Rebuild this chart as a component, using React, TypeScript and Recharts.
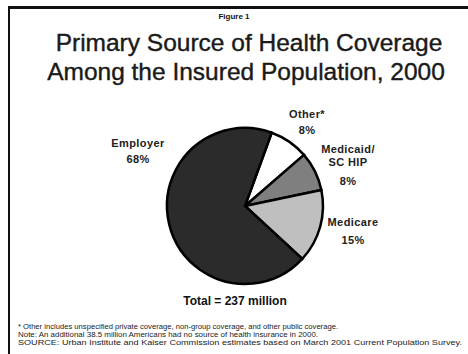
import { Cell, Pie, PieChart } from 'recharts';

const sources = ['Other*', 'Medicaid/SCHIP', 'Medicare', 'Employer'];
const shares = [8, 8, 15, 68];
const labelLines = [['Other*', '8%'], ['Medicaid/', 'SC HIP', '8%'], ['Medicare', '15%'], ['Employer', '68%']];
const footnotes = [
    '* Other includes unspecified private coverage, non-group coverage, and other public coverage.',
    'Note: An additional 38.5 million Americans had no source of health insurance in 2000.',
    'SOURCE: Urban Institute and Kaiser Commission estimates based on March 2001 Current Population Survey.',
];

const fills = ['#ffffff', '#7f7f7f', '#bfbfbf', '#2b2b2b'];
// label anchor offsets from the pie centre: [dx, baselines...]
const labelPos: Array<[number, number[]]> = [
    [62, [-88, -72]],
    [103, [-53, -40, -21]],
    [108, [20, 38]],
    [-107, [-59, -43]],
];
const footWidths = [320, 300, 444];

const data = sources.map((name, i) => ({ name, value: shares[i] }));
const font = '"Liberation Sans", Arial, sans-serif';

function renderLabel(props: any) {
    const { cx, cy, index } = props;
    const [dx, ys] = labelPos[index];
    return (
        <g key={`lbl-${index}`}>
            {labelLines[index].map((t, j) => (
                <text
                    key={j}
                    x={cx + dx}
                    y={cy + ys[j]}
                    textAnchor="middle"
                    fontFamily={font}
                    fontWeight="bold"
                    fontSize={11}
                    letterSpacing={0.4}
                    fill="#222"
                >
                    {t}
                </text>
            ))}
        </g>
    );
}

export default function App() {
    return (
        <div
            style={{
                position: 'fixed',
                left: 0,
                top: 0,
                width: 468,
                height: 354,
                background: '#fff',
                overflow: 'hidden',
            }}
        >
            <div style={{ position: 'absolute', left: 8, top: 6, width: 460, height: 3, background: '#111' }} />
            <div style={{ position: 'absolute', left: 8, top: 6, width: 2, height: 348, background: '#111' }} />
            <div style={{ position: 'absolute', left: 0, top: 0 }}>
                <PieChart width={468} height={354}>
                    <Pie
                        data={data}
                        dataKey="value"
                        nameKey="name"
                        cx={240}
                        cy={201}
                        outerRadius={78}
                        startAngle={70}
                        endAngle={-290}
                        stroke="#000"
                        strokeWidth={2.5}
                        labelLine={false}
                        label={renderLabel}
                        isAnimationActive={false}
                    >
                        {data.map((d, i) => (
                            <Cell key={d.name} fill={fills[i]} />
                        ))}
                    </Pie>
                </PieChart>
            </div>
            <svg width={468} height={354} style={{ position: 'absolute', left: 0, top: 0, pointerEvents: 'none' }}>
                <text x={234} y={19} textAnchor="middle" fontFamily={font} fontWeight="bold" fontSize={8} fill="#111">
                    Figure 1
                </text>
                <text
                    x={249}
                    y={51}
                    textAnchor="middle"
                    fontFamily={font}
                    fontSize={24.5}
                    fill="#1a1a1a"
                    stroke="#1a1a1a"
                    strokeWidth={0.4}
                >
                    Primary Source of Health Coverage
                </text>
                <text
                    x={246}
                    y={80}
                    textAnchor="middle"
                    fontFamily={font}
                    fontSize={24.5}
                    fill="#1a1a1a"
                    stroke="#1a1a1a"
                    strokeWidth={0.4}
                >
                    Among the Insured Population, 2000
                </text>
                <text x={235} y={305} textAnchor="middle" fontFamily={font} fontWeight="bold" fontSize={12} fill="#111">
                    Total = 237 million
                </text>
                {footnotes.map((t, i) => (
                    <text
                        key={i}
                        x={18}
                        y={329 + i * 8}
                        fontFamily={font}
                        fontSize={7}
                        textLength={footWidths[i]}
                        lengthAdjust="spacingAndGlyphs"
                        fill="#222"
                    >
                        {t}
                    </text>
                ))}
            </svg>
        </div>
    );
}
